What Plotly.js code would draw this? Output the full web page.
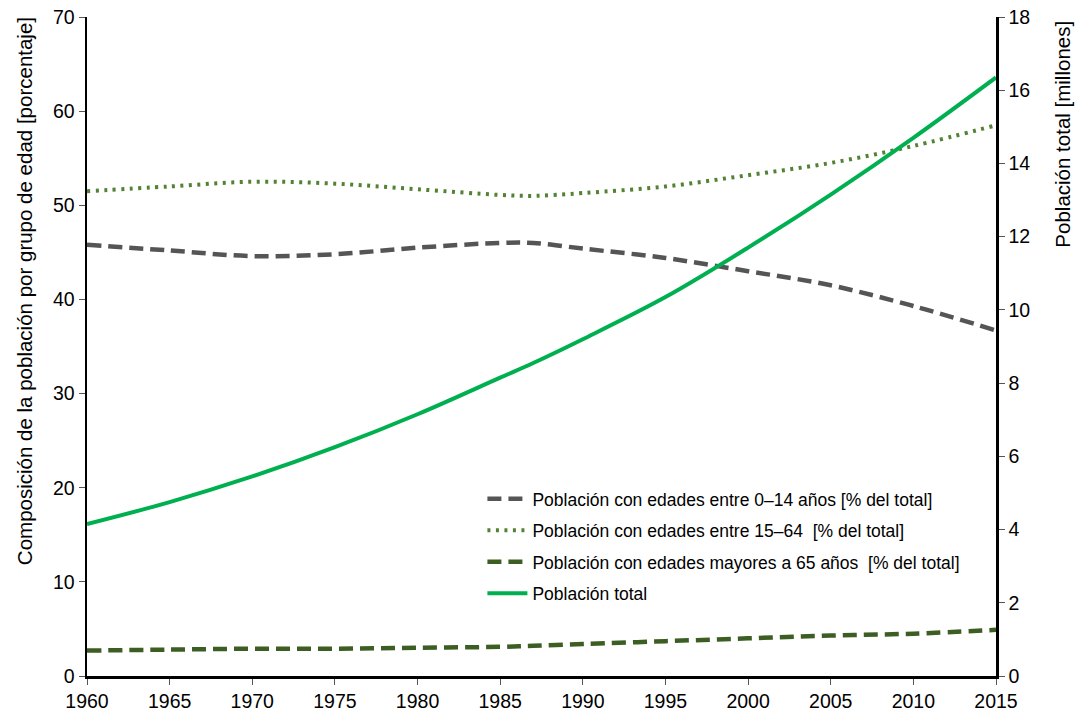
<!DOCTYPE html>
<html><head><meta charset="utf-8">
<script src="https://cdn.plot.ly/plotly-3.0.1.min.js"></script>
<style>body{margin:0;background:#fff}#c{width:1079px;height:715px}</style>
</head><body><div id="c"></div>
<script>
var years = [1960,1965,1970,1975,1980,1985,1987,1990,1995,2000,2005,2010,2015];
var age0_14 = [45.8,45.2,44.6,44.8,45.5,46.0,46.0,45.4,44.4,43.0,41.5,39.3,36.7];
var age15_64 = [51.5,52.0,52.5,52.3,51.7,51.1,51.0,51.3,52.0,53.2,54.5,56.3,58.5];
var age65 = [2.7,2.8,2.9,2.9,3.0,3.1,3.2,3.4,3.7,4.0,4.3,4.5,4.9];
var totalPop = [4.15,4.75,5.45,6.25,7.15,8.15,8.55,9.2,10.35,11.7,13.15,14.7,16.35];
var xTicks = [1960,1965,1970,1975,1980,1985,1990,1995,2000,2005,2010,2015];

var names = ["Población con edades entre 0–14 años [% del total]",
             "Población con edades entre 15–64  [% del total]",
             "Población con edades mayores a 65 años  [% del total]",
             "Población total"];
var leftTitle = 'Composición de la población por grupo de edad [porcentaje]';
var rightTitle = 'Población total [millones]';

var traces = [
  {x:years,y:age0_14,name:names[0],type:'scatter',mode:'lines',line:{color:'#555555',width:4.5,dash:'14px,7px',shape:'spline'},legendgroup:'a'},
  {x:years,y:age15_64,name:names[1],type:'scatter',mode:'lines',line:{color:'#548235',width:4,dash:'3px,5.5px',shape:'spline'},legendgroup:'b'},
  {x:years,y:age65,name:names[2],type:'scatter',mode:'lines',line:{color:'#3d5e22',width:4.5,dash:'14px,7px',shape:'spline'},legendgroup:'c'},
  {x:years,y:totalPop,name:names[3],type:'scatter',mode:'lines',line:{color:'#00b050',width:4,shape:'spline'},yaxis:'y2',legendgroup:'d'}
];

var fam = 'Liberation Sans, Arial, Helvetica, sans-serif';
var tf = {size:19.5,family:fam,color:'#000'};
var layout = {
  width:1079,height:715,
  margin:{l:87,r:83,t:17,b:39},
  paper_bgcolor:'#fff',plot_bgcolor:'#fff',
  font:{family:fam,color:'#000'},
  showlegend:true,
  legend:{x:0.435,y:0.296,xanchor:'left',yanchor:'top',bgcolor:'rgba(0,0,0,0)',font:{size:17.5,family:fam,color:'#000'},tracegroupgap:5.7,traceorder:'grouped',itemwidth:40},
  xaxis:{range:[1960,2015],tickvals:xTicks,
    showgrid:false,zeroline:false,showline:true,linecolor:'#000',linewidth:2.5,
    ticks:'outside',ticklen:6,tickcolor:'#555',tickwidth:1,tickfont:tf},
  yaxis:{range:[0,70],dtick:10,showgrid:false,zeroline:false,showline:true,linecolor:'#000',linewidth:2.5,
    ticks:'outside',ticklen:6,tickcolor:'#555',tickwidth:1,tickfont:tf},
  yaxis2:{range:[0,18],dtick:2,overlaying:'y',side:'right',showgrid:false,zeroline:false,showline:true,linecolor:'#000',linewidth:2.5,
    ticks:'outside',ticklen:6,tickcolor:'#555',tickwidth:1,tickfont:tf},
  annotations:[
    {text:leftTitle,xref:'paper',yref:'paper',x:-0.0693,y:0.584,xanchor:'center',yanchor:'middle',textangle:-90,showarrow:false,font:{size:20.5,family:fam,color:'#000'}},
    {text:rightTitle,xref:'paper',yref:'paper',x:1.0737,y:0.823,xanchor:'center',yanchor:'middle',textangle:-90,showarrow:false,font:{size:20.5,family:fam,color:'#000'}}
  ]
};
Plotly.newPlot('c',traces,layout,{displayModeBar:false,staticPlot:true});
</script></body></html>
